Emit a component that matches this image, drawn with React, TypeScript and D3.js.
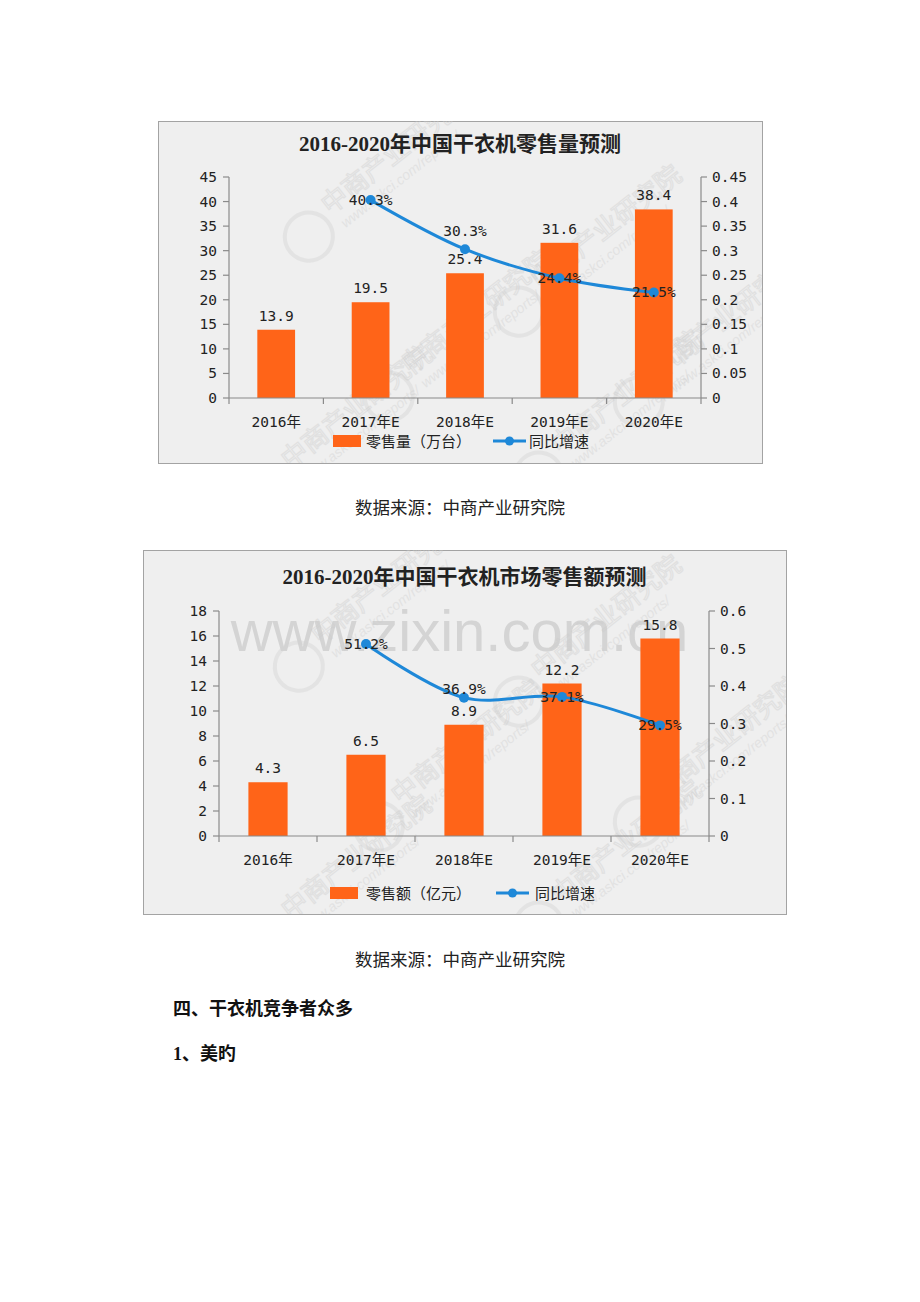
import React from 'react';
import * as d3 from 'd3';

// ---- data ----
const years = ['2016年', '2017年E', '2018年E', '2019年E', '2020年E'];

const salesVolume = [13.9, 19.5, 25.4, 31.6, 38.4]; // 万台
const volumeGrowth = [null, 0.403, 0.303, 0.244, 0.215];
const volumeTicks = [0, 5, 10, 15, 20, 25, 30, 35, 40, 45];
const volumeRateTicks = [0, 0.05, 0.1, 0.15, 0.2, 0.25, 0.3, 0.35, 0.4, 0.45];

const salesValue = [4.3, 6.5, 8.9, 12.2, 15.8]; // 亿元
const valueGrowth = [null, 0.512, 0.369, 0.371, 0.295];
const valueTicks = [0, 2, 4, 6, 8, 10, 12, 14, 16, 18];
const valueRateTicks = [0, 0.1, 0.2, 0.3, 0.4, 0.5, 0.6];

const ORANGE = '#ff6418';
const BLUE = '#1e88d8';
const AXIS = '#8a8a8a';
const NUM = "'DejaVu Sans Mono', 'Noto Sans CJK SC', monospace";
const CJK = "'Noto Sans CJK SC', sans-serif";
const TITLE = "'Liberation Serif', 'Noto Sans CJK SC', serif";

type Box = { x0: number; y0: number; x1: number; y1: number };

type ChartProps = {
  id: string;
  frame: Box;
  plot: Box;
  title: string;
  titleY: number;
  bars: number[];
  rates: (number | null)[];
  leftTicks: number[];
  rightTicks: number[];
  barLabel: string;
  legendY: number;
  legendX: number[]; // rect start, text, line start, text
  rateLabelDy: number[];
  watermarks: [number, number][];
  zixin?: boolean;
};

function Chart(p: ChartProps) {
  const { plot, frame } = p;
  const x = d3.scaleBand<string>().domain(years).range([plot.x0, plot.x1]).paddingInner(0.6).paddingOuter(0.3);
  const band = d3.scaleBand<string>().domain(years).range([plot.x0, plot.x1]);
  const yL = d3.scaleLinear().domain([0, d3.max(p.leftTicks)!]).range([plot.y1, plot.y0]);
  const yR = d3.scaleLinear().domain([0, d3.max(p.rightTicks)!]).range([plot.y1, plot.y0]);

  const pts = years
    .map((c, i) => ({ c, v: p.rates[i], i }))
    .filter(d => d.v != null) as { c: string; v: number; i: number }[];
  const line = d3
    .line<{ c: string; v: number }>()
    .x(d => band(d.c)! + band.bandwidth() / 2)
    .y(d => yR(d.v))
    .curve(d3.curveCatmullRom.alpha(0.5));

  const fmtR = (v: number) => String(+v.toFixed(2));
  const cx = (frame.x0 + frame.x1) / 2;
  const [lx0, lt0, lx1, lt1] = p.legendX;

  return (
    <g>
      <defs>
        <clipPath id={p.id}>
          <rect x={frame.x0} y={frame.y0} width={frame.x1 - frame.x0} height={frame.y1 - frame.y0} />
        </clipPath>
      </defs>
      <rect
        x={frame.x0 + 0.5}
        y={frame.y0 + 0.5}
        width={frame.x1 - frame.x0}
        height={frame.y1 - frame.y0}
        fill="#efefef"
        stroke="#a3a3a3"
      />
      {/* faint watermarks */}
      <g clipPath={`url(#${p.id})`}>
        {p.zixin && (
          <text x={cx - 5} y={plot.y0 + 40} textAnchor="middle" fontFamily="'Liberation Sans', sans-serif" fontSize={58} fill="#d4d4d4">
            www.zixin.com.cn
          </text>
        )}
        {p.watermarks.map(([wx, wy], i) => (
          <g key={i} transform={`translate(${wx},${wy}) rotate(-38)`} opacity={0.4}>
            <circle cx={-30} cy={4} r={24} fill="none" stroke="#d2d2d2" strokeWidth={4} />
            <text x={0} y={0} fontFamily={CJK} fontSize={26} fill="none" stroke="#cccccc" strokeWidth={1.2}>
              中商产业研究院
            </text>
            <text x={4} y={20} fontFamily="'Liberation Sans', sans-serif" fontStyle="italic" fontSize={14} fill="#cfcfcf">
              www.askci.com/reports/
            </text>
          </g>
        ))}
      </g>

      <text x={cx} y={p.titleY} textAnchor="middle" fontFamily={TITLE} fontWeight="bold" fontSize={21} fill="#222">
        {p.title}
      </text>

      {/* bars */}
      {years.map((c, i) => (
        <g key={c}>
          <rect x={x(c)} y={yL(p.bars[i])} width={x.bandwidth()} height={yL(0) - yL(p.bars[i])} fill={ORANGE} />
          <text x={x(c)! + x.bandwidth() / 2} y={yL(p.bars[i]) - 9} textAnchor="middle" fontFamily={NUM} fontSize={14.5} fill="#222">
            {p.bars[i]}
          </text>
        </g>
      ))}

      {/* axes */}
      <g stroke={AXIS} strokeWidth={1.2} fill="none">
        <line x1={plot.x0} x2={plot.x0} y1={plot.y0} y2={plot.y1 + 6} />
        <line x1={plot.x1} x2={plot.x1} y1={plot.y0} y2={plot.y1 + 6} />
        <line x1={plot.x0} x2={plot.x1} y1={plot.y1} y2={plot.y1} />
        {p.leftTicks.map(t => (
          <line key={'l' + t} x1={plot.x0 - 6} x2={plot.x0} y1={yL(t)} y2={yL(t)} />
        ))}
        {p.rightTicks.map(t => (
          <line key={'r' + t} x1={plot.x1} x2={plot.x1 + 6} y1={yR(t)} y2={yR(t)} />
        ))}
        {years.slice(1).map(c => (
          <line key={'b' + c} x1={band(c)} x2={band(c)} y1={plot.y1} y2={plot.y1 + 6} />
        ))}
      </g>
      {p.leftTicks.map(t => (
        <text key={'lt' + t} x={plot.x0 - 12} y={yL(t) + 5} textAnchor="end" fontFamily={NUM} fontSize={14.5} fill="#222">
          {t}
        </text>
      ))}
      {p.rightTicks.map(t => (
        <text key={'rt' + t} x={plot.x1 + 11} y={yR(t) + 5} fontFamily={NUM} fontSize={14.5} fill="#222">
          {fmtR(t)}
        </text>
      ))}
      {years.map(c => (
        <text key={'c' + c} x={band(c)! + band.bandwidth() / 2} y={plot.y1 + 29} textAnchor="middle" fontFamily={NUM} fontSize={14.5} fill="#222">
          {c}
        </text>
      ))}

      {/* growth line */}
      <path d={line(pts)!} fill="none" stroke={BLUE} strokeWidth={3} />
      {pts.map(d => (
        <circle key={'p' + d.c} cx={band(d.c)! + band.bandwidth() / 2} cy={yR(d.v)} r={5} fill={BLUE} />
      ))}
      {pts.map(d => (
        <text
          key={'pl' + d.c}
          x={band(d.c)! + band.bandwidth() / 2}
          y={yR(d.v) + 5 + p.rateLabelDy[d.i]}
          textAnchor="middle"
          fontFamily={NUM}
          fontSize={14.5}
          fill="#222"
        >
          {(d.v * 100).toFixed(1) + '%'}
        </text>
      ))}

      {/* legend */}
      <rect x={lx0} y={p.legendY - 6} width={28} height={12} fill={ORANGE} />
      <text x={lt0} y={p.legendY + 6} fontFamily={CJK} fontSize={15} fill="#222">
        {p.barLabel}
      </text>
      <line x1={lx1} x2={lx1 + 33} y1={p.legendY} y2={p.legendY} stroke={BLUE} strokeWidth={3} />
      <circle cx={lx1 + 16.5} cy={p.legendY} r={4.5} fill={BLUE} />
      <text x={lt1} y={p.legendY + 6} fontFamily={CJK} fontSize={15} fill="#222">
        同比增速
      </text>
    </g>
  );
}

export default function App() {
  return (
    <svg
      width={920}
      height={1302}
      viewBox="0 0 920 1302"
      style={{ position: 'absolute', left: 0, top: 0, background: '#fff' }}
    >
      <rect width={920} height={1302} fill="#fff" />
      <Chart
        id="clip1"
        frame={{ x0: 158, y0: 121, x1: 762, y1: 463 }}
        plot={{ x0: 229, y0: 177, x1: 701, y1: 398 }}
        title="2016-2020年中国干衣机零售量预测"
        titleY={151}
        bars={salesVolume}
        rates={volumeGrowth}
        leftTicks={volumeTicks}
        rightTicks={volumeRateTicks}
        barLabel="零售量（万台）"
        legendY={441}
        legendX={[333, 366, 493, 529]}
        rateLabelDy={[0, 0, -18, 0, 0]}
        watermarks={[[330, 215], [540, 290], [410, 375], [660, 380], [560, 455], [290, 470]]}
      />
      <text x={460} y={514} textAnchor="middle" fontFamily={CJK} fontSize={17.5} fill="#222">
        数据来源：中商产业研究院
      </text>

      <Chart
        id="clip2"
        frame={{ x0: 143, y0: 550, x1: 786, y1: 914 }}
        plot={{ x0: 219, y0: 611, x1: 709, y1: 836 }}
        title="2016-2020年中国干衣机市场零售额预测"
        titleY={584}
        bars={salesValue}
        rates={valueGrowth}
        leftTicks={valueTicks}
        rightTicks={valueRateTicks}
        barLabel="零售额（亿元）"
        legendY={893}
        legendX={[330, 366, 496, 535]}
        rateLabelDy={[0, 0, -9, 0, 0]}
        watermarks={[[320, 645], [540, 680], [400, 805], [660, 800], [560, 905], [290, 920]]}
        zixin
      />
      <text x={460} y={966} textAnchor="middle" fontFamily={CJK} fontSize={17.5} fill="#222">
        数据来源：中商产业研究院
      </text>

      <text x={173} y={1015} fontFamily={CJK} fontWeight="bold" fontSize={18} fill="#111">
        四、干衣机竞争者众多
      </text>
      <text x={173} y={1060} fontFamily={TITLE} fontWeight="bold" fontSize={18} fill="#111">
        1、美旳
      </text>
    </svg>
  );
}
